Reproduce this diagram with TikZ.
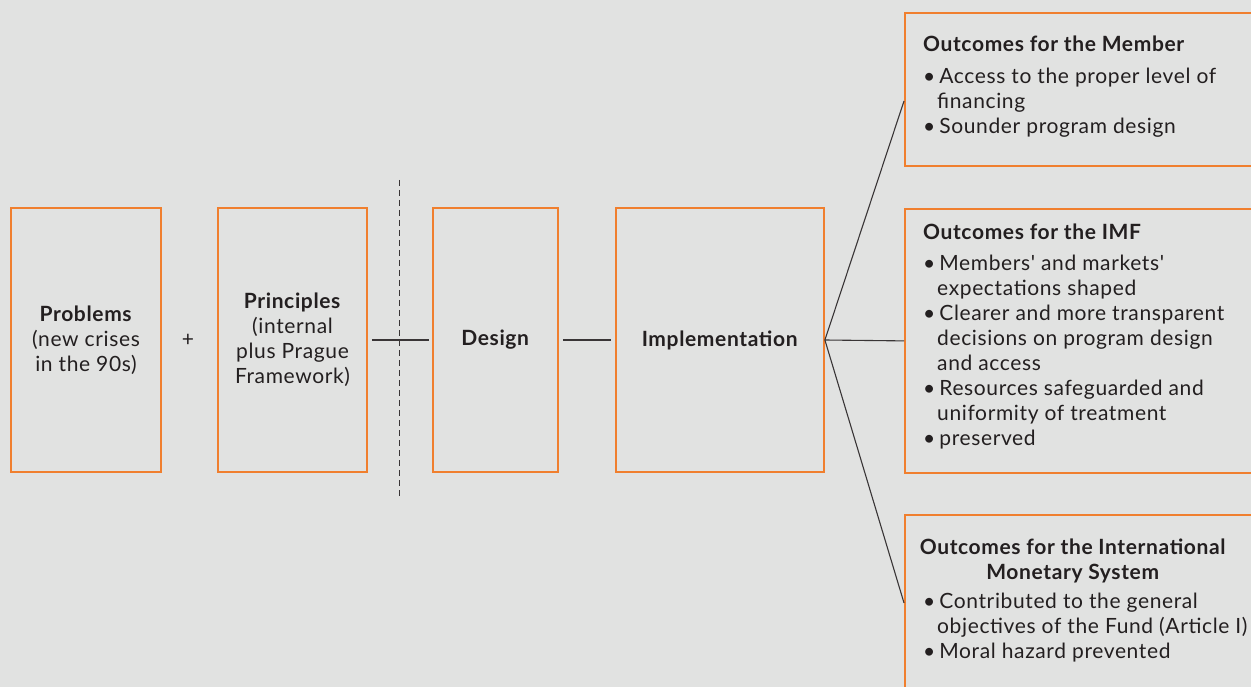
\documentclass[tikz,border=0pt]{standalone}
\usepackage{fontspec}
\setmainfont{Lato}[Ligatures=TeXOff, LetterSpace=3]
\usetikzlibrary{calc}
\definecolor{bggray}{HTML}{E1E2E1}
\definecolor{imforange}{HTML}{F07F2E}
\definecolor{inkgray}{HTML}{231F20}
\tikzset{
  txt/.style={text=inkgray, font=\fontsize{21}{25}\selectfont, inner sep=0pt},
  stagebox/.style={txt, draw=imforange, line width=1.8pt, minimum height=264pt, align=center},
  outbox/.style={draw=imforange, line width=1.8pt, anchor=north west, minimum width=420pt, inner sep=0pt},
  outtxt/.style={txt, anchor=north west, align=left},
  link/.style={draw=inkgray!90, line width=1.1pt},
}
\begin{document}
\begin{tikzpicture}[x=1pt, y=-1pt]
\useasboundingbox (0,0) rectangle (1251,687);
\clip (0,0) rectangle (1251,687);
\fill[bggray] (0,0) rectangle (1251,687);
    \node[stagebox, minimum width=150pt] (problems) at (86,340) {\textbf{Problems}\\(new crises\\in the 90s)};
    \node[txt] (plus) at (188,340) {+};
    \node[stagebox, minimum width=149pt] (principles) at (292.5,340) {\textbf{Principles}\\(internal\\plus Prague\\Framework)};
    \node[stagebox, minimum width=125pt] (design) at (495.5,340) {\textbf{Design}};
    \node[stagebox, minimum width=208pt] (impl) at (720,340) {\textbf{Implementation}};
    \node[outbox, minimum height=153pt] (member) at (904,12) {};
    \node[outbox, minimum height=264pt] (imf) at (904,208) {};
    \node[outbox, minimum height=176pt] (ims) at (904,514) {};
    \node[outtxt] (memberTxt) at (923,36) {\textbf{Outcomes for the Member}\\[7pt]
        \textbullet\hspace{4pt}Access to the proper level of\\\hspace*{14pt}financing\\
        \textbullet\hspace{4pt}Sounder program design};
    \node[outtxt] (imfTxt) at (923,224) {\textbf{Outcomes for the IMF}\\[6pt]
        \textbullet\hspace{4pt}Members' and markets'\\\hspace*{14pt}expectations shaped\\
        \textbullet\hspace{4pt}Clearer and more transparent\\\hspace*{14pt}decisions on program design\\\hspace*{14pt}and access\\
        \textbullet\hspace{4pt}Resources safeguarded and\\\hspace*{14pt}uniformity of treatment\\
        \textbullet\hspace{4pt}preserved};
    \node[txt, anchor=north, align=center] (imsHead) at (1073,539) {\textbf{Outcomes for the International}\\\textbf{Monetary System}};
    \node[outtxt] (imsTxt) at (923,593) {\textbullet\hspace{4pt}Contributed to the general\\\hspace*{14pt}objectives of the Fund (Article I)\\
        \textbullet\hspace{4pt}Moral hazard prevented};
    \coordinate (cutTop) at (399,180);
    \coordinate (cutBot) at (399,498);
    \draw[link, shorten <=4pt, shorten >=3pt] (principles.east) -- (design.west);
    \draw[link, shorten <=4pt, shorten >=4pt] (design.east) -- (impl.west);
    \draw[link, line width=1pt, dash pattern=on 6pt off 4pt] (cutTop) -- (cutBot);
    \draw[link] (impl.east) -- ($(member.north west)!0.575!(member.south west)$);
    \draw[link] (impl.east) -- (imf.west);
    \draw[link] (impl.east) -- (ims.west);
\end{tikzpicture}
\end{document}
